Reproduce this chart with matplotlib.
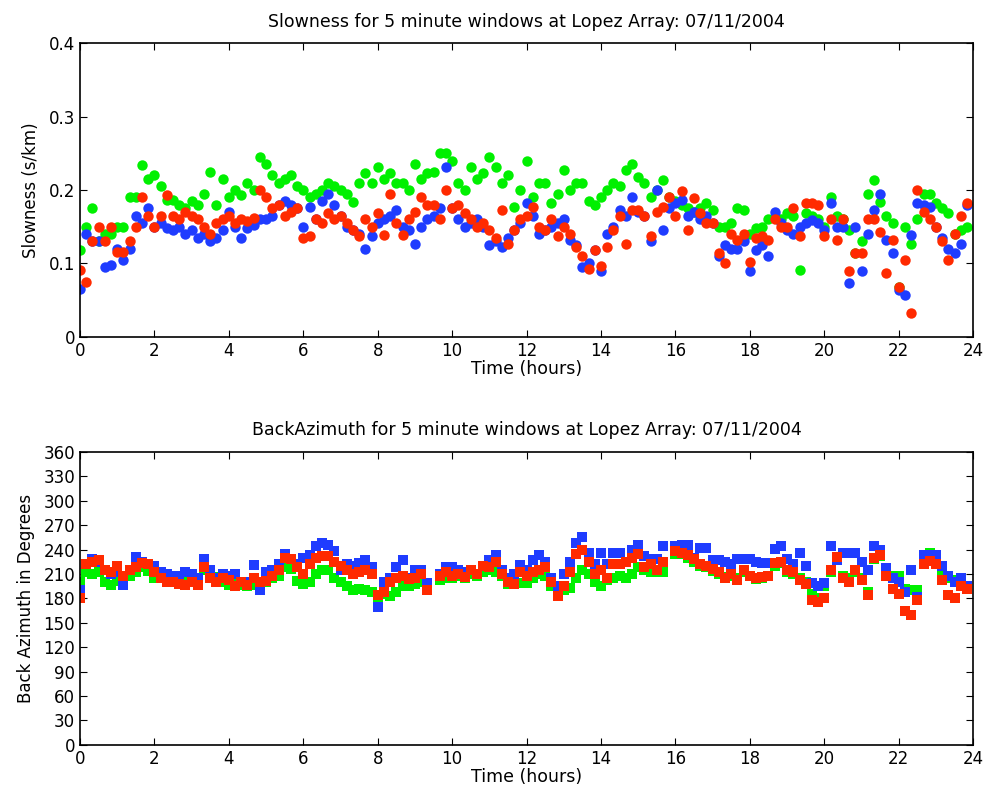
import numpy as np
import matplotlib
matplotlib.use("Agg")
import matplotlib.pyplot as plt

plt.rcParams['font.family'] = ['DejaVu Sans']

# 10 minute steps over the day, 6 values per hour per row
hours = np.arange(144) / 6.0

slow_blue = [
    0.065, 0.14, 0.13, 0.13, 0.095, 0.098,
    0.12, 0.105, 0.12, 0.165, 0.155, 0.175,
    0.15, 0.155, 0.148, 0.145, 0.15, 0.14,
    0.145, 0.134, 0.14, 0.13, 0.135, 0.145,
    0.17, 0.15, 0.134, 0.148, 0.152, 0.16,
    0.16, 0.165, 0.18, 0.185, 0.18, 0.175,
    0.15, 0.177, 0.16, 0.185, 0.195, 0.18,
    0.164, 0.15, 0.145, 0.14, 0.12, 0.137,
    0.155, 0.16, 0.165, 0.173, 0.15, 0.145,
    0.127, 0.15, 0.16, 0.165, 0.175, 0.232,
    0.175, 0.16, 0.15, 0.155, 0.16, 0.15,
    0.125, 0.13, 0.123, 0.135, 0.145, 0.155,
    0.182, 0.165, 0.14, 0.145, 0.15, 0.155,
    0.16, 0.132, 0.125, 0.095, 0.1, 0.118,
    0.09, 0.14, 0.15, 0.173, 0.165, 0.19,
    0.17, 0.165, 0.13, 0.2, 0.145, 0.175,
    0.182, 0.186, 0.164, 0.17, 0.16, 0.165,
    0.155, 0.11, 0.125, 0.12, 0.12, 0.13,
    0.09, 0.118, 0.125, 0.11, 0.17, 0.155,
    0.146, 0.14, 0.15, 0.155, 0.159, 0.155,
    0.145, 0.182, 0.15, 0.15, 0.073, 0.15,
    0.089, 0.14, 0.173, 0.195, 0.132, 0.114,
    0.064, 0.057, 0.139, 0.182, 0.18, 0.177,
    0.15, 0.135, 0.12, 0.114, 0.127, 0.18,
]

slow_green = [
    0.118, 0.15, 0.175, 0.13, 0.14, 0.14,
    0.15, 0.15, 0.19, 0.19, 0.234, 0.215,
    0.22, 0.205, 0.186, 0.186, 0.18, 0.175,
    0.185, 0.18, 0.195, 0.225, 0.18, 0.215,
    0.19, 0.2, 0.193, 0.21, 0.2, 0.245,
    0.235, 0.22, 0.21, 0.215, 0.22, 0.205,
    0.2, 0.19, 0.195, 0.2, 0.21, 0.205,
    0.2, 0.195, 0.184, 0.21, 0.223, 0.21,
    0.232, 0.215, 0.223, 0.21, 0.21, 0.2,
    0.236, 0.215, 0.223, 0.225, 0.25, 0.25,
    0.24, 0.21, 0.2, 0.232, 0.215, 0.223,
    0.245, 0.232, 0.21, 0.22, 0.177, 0.2,
    0.24, 0.19, 0.21, 0.21, 0.182, 0.195,
    0.227, 0.2, 0.21, 0.21, 0.185, 0.18,
    0.19, 0.2, 0.21, 0.205, 0.227, 0.236,
    0.218, 0.21, 0.19, 0.2, 0.214, 0.19,
    0.185, 0.18, 0.175, 0.17, 0.175, 0.182,
    0.173, 0.15, 0.15, 0.155, 0.175, 0.173,
    0.14, 0.148, 0.15, 0.16, 0.165, 0.16,
    0.168, 0.165, 0.091, 0.168, 0.164, 0.16,
    0.15, 0.19, 0.164, 0.16, 0.145, 0.114,
    0.13, 0.195, 0.214, 0.184, 0.164, 0.155,
    0.068, 0.15, 0.127, 0.16, 0.195, 0.195,
    0.182, 0.175, 0.168, 0.14, 0.145, 0.15,
]

slow_red = [
    0.091, 0.075, 0.13, 0.15, 0.13, 0.15,
    0.115, 0.115, 0.13, 0.15, 0.19, 0.165,
    0.15, 0.165, 0.193, 0.165, 0.16, 0.17,
    0.165, 0.16, 0.15, 0.14, 0.155, 0.16,
    0.165, 0.155, 0.16, 0.158, 0.162, 0.2,
    0.19, 0.175, 0.18, 0.165, 0.17, 0.175,
    0.135, 0.137, 0.16, 0.155, 0.168, 0.16,
    0.165, 0.155, 0.145, 0.137, 0.16, 0.15,
    0.168, 0.139, 0.195, 0.155, 0.139, 0.16,
    0.17, 0.19, 0.18, 0.18, 0.16, 0.2,
    0.175, 0.18, 0.168, 0.16, 0.15, 0.155,
    0.145, 0.135, 0.173, 0.127, 0.145, 0.16,
    0.165, 0.177, 0.15, 0.145, 0.16, 0.137,
    0.15, 0.14, 0.123, 0.11, 0.093, 0.118,
    0.096, 0.123, 0.145, 0.164, 0.127, 0.173,
    0.173, 0.164, 0.137, 0.17, 0.177, 0.19,
    0.165, 0.198, 0.145, 0.189, 0.168, 0.155,
    0.155, 0.114, 0.1, 0.14, 0.132, 0.14,
    0.102, 0.135, 0.137, 0.132, 0.16, 0.15,
    0.15, 0.175, 0.137, 0.182, 0.182, 0.18,
    0.137, 0.16, 0.132, 0.16, 0.089, 0.114,
    0.114, 0.16, 0.16, 0.143, 0.087, 0.132,
    0.068, 0.105, 0.032, 0.2, 0.17, 0.16,
    0.15, 0.13, 0.105, 0.14, 0.165, 0.182,
]

nan = np.nan

baz_blue = [
    190, 222, 228, 225, 215, 210,
    212, 196, 215, 231, 225, 222,
    220, 212, 210, 208, 207, 212,
    210, 205, 229, 215, 205, 210,
    207, 210, 200, 200, 221, 190,
    212, 215, 222, 235, 228, 222,
    230, 233, 245, 248, 246, 238,
    215, 222, 220, 224, 227, 218,
    170, 200, 205, 219, 227, 205,
    215, 215, 199, nan, 210, 219,
    219, 215, 212, 215, 210, 220,
    227, 233, 215, 205, 210, 221,
    215, 227, 233, 225, 205, 195,
    210, 225, 248, 256, 236, 222,
    236, 222, 236, 236, 225, 240,
    246, 232, 228, 228, 244, nan,
    244, 246, 246, 230, 242, 242,
    227, 227, 225, 222, 228, 228,
    228, 225, 223, 223, 241, 244,
    229, 222, 236, 220, 199, 195,
    199, 244, 227, 236, 236, 236,
    225, 215, 244, 240, 217, 205,
    200, 188, 215, 182, 233, 233,
    233, 220, 207, 200, 205, 195,
]

baz_green = [
    200, 212, 210, 212, 200, 196,
    202, 205, 208, 212, 218, 214,
    205, 206, 205, 202, 205, 208,
    206, 204, 215, 213, 206, 200,
    197, 200, 196, 195, 197, 198,
    200, 205, 207, 218, 216, 202,
    198, 200, 210, 215, 215, 205,
    200, 195, 190, 192, 190, 188,
    178, 185, 183, 188, 195, 195,
    198, 200, 196, nan, 203, 205,
    205, 207, 205, 210, 207, 212,
    215, 212, 208, 198, 203, 199,
    199, 205, 210, 208, 195, 190,
    190, 193, 205, 215, 210, 200,
    195, 203, 205, 207, 205, 210,
    219, 215, 212, 212, 213, nan,
    235, 234, 230, 225, 220, 218,
    214, 210, 206, 208, 205, 212,
    207, 204, 205, 207, 220, 223,
    213, 210, 205, 200, 185, 180,
    195, 212, 228, 208, 205, 212,
    205, 188, 228, 232, 215, 207,
    207, 192, 190, 190, 225, 236,
    232, 215, 205, 203, 198, 195,
]

baz_red = [
    180, 222, 225, 227, 215, 212,
    220, 208, 215, 218, 224, 222,
    212, 205, 200, 200, 198, 197,
    200, 197, 218, 205, 200, 205,
    203, 195, 200, 196, 205, 200,
    202, 208, 215, 230, 228, 218,
    210, 222, 230, 232, 232, 225,
    220, 215, 210, 212, 215, 210,
    184, 188, 200, 205, 208, 204,
    205, 210, 190, nan, 207, 212,
    208, 210, 206, 215, 210, 220,
    218, 225, 210, 200, 198, 212,
    207, 212, 215, 218, 200, 183,
    195, 212, 235, 240, 225, 210,
    215, 205, 222, 222, 225, 230,
    235, 218, 222, 215, 225, nan,
    238, 236, 233, 228, 222, 220,
    216, 212, 205, 210, 203, 215,
    208, 205, 206, 208, 223, 225,
    215, 212, 203, 198, 178, 176,
    180, 215, 231, 205, 200, 215,
    203, 184, 230, 233, 207, 192,
    186, 165, 160, 178, 222, 226,
    222, 203, 184, 180, 195, 192,
]

BLUE = '#1f3cff'
GREEN = '#00f000'
RED = '#ff2a00'

fig = plt.figure(figsize=(9.88, 8), dpi=100)
ax1 = fig.add_axes([0.081, 0.579, 0.904, 0.367])
ax2 = fig.add_axes([0.081, 0.069, 0.904, 0.366])

for vals, col in [(slow_green, GREEN), (slow_blue, BLUE), (slow_red, RED)]:
    ax1.plot(hours, vals, 'o', color=col, markersize=7.5, markeredgewidth=0)
for vals, col in [(baz_green, GREEN), (baz_blue, BLUE), (baz_red, RED)]:
    ax2.plot(hours, vals, 's', color=col, markersize=7.5, markeredgewidth=0)

ax1.set_xlim(0, 24)
ax1.set_ylim(0, 0.4)
ax1.set_xticks(range(0, 25, 2))
ax1.set_yticks([0, 0.1, 0.2, 0.3, 0.4])
ax1.set_yticklabels(['0', '0.1', '0.2', '0.3', '0.4'])
ax1.set_title('Slowness for 5 minute windows at Lopez Array: 07/11/2004', fontsize=12.5, pad=12)
ax1.set_xlabel('Time (hours)', fontsize=12.5, labelpad=0)
ax1.set_ylabel('Slowness (s/km)', fontsize=12, labelpad=6)

ax2.set_xlim(0, 24)
ax2.set_ylim(0, 360)
ax2.set_xticks(range(0, 25, 2))
ax2.set_yticks(range(0, 361, 30))
ax2.set_title('BackAzimuth for 5 minute windows at Lopez Array: 07/11/2004', fontsize=12.5, pad=12)
ax2.set_xlabel('Time (hours)', fontsize=12.5, labelpad=0)
ax2.set_ylabel('Back Azimuth in Degrees', fontsize=12, labelpad=6)

for ax in (ax1, ax2):
    ax.tick_params(direction='in', top=True, right=True, length=5, labelsize=12)
    for sp in ax.spines.values():
        sp.set_linewidth(1.2)

fig.savefig('out.png', dpi=100)
